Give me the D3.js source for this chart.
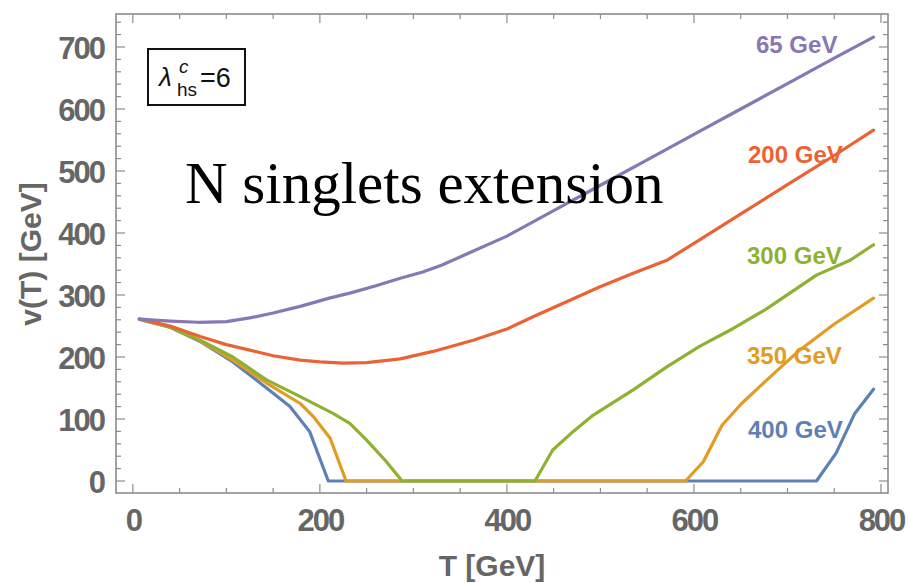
<!DOCTYPE html>
<html>
<head>
<meta charset="utf-8">
<script src="https://cdn.jsdelivr.net/npm/d3@7"></script>
<style>
  body { margin: 0; background: #fff; }
  svg { display: block; }
</style>
</head>
<body>
<svg id="chart" width="908" height="583"></svg>
<script>
// Tick values
const xTickValues = [0, 200, 400, 600, 800];
const yTickValues = [0, 100, 200, 300, 400, 500, 600, 700];

// Singlet masses (curve labels)
const massLabels = ["65 GeV", "200 GeV", "300 GeV", "350 GeV", "400 GeV"];

// v(T) for each singlet mass: temperature [GeV] and vev [GeV]
const t65  = [7, 40, 70, 100, 125, 150, 180, 210, 232, 260, 286, 310, 330, 360, 400, 450, 500, 550, 600, 650, 700, 750, 792];
const v65  = [261, 258, 256, 257, 263, 271, 282, 295, 303, 315, 327, 337, 348, 368, 395, 436, 477, 518, 559, 600, 641, 682, 716];

const t200 = [7, 40, 72, 100, 125, 150, 179, 200, 225, 250, 286, 321, 364, 400, 428, 465, 499, 535, 571, 606, 640, 700, 750, 792];
const v200 = [261, 250, 233, 220, 211, 202, 195, 192, 190, 191, 197, 209, 227, 245, 265, 290, 313, 335, 356, 389, 421, 478, 525, 566];

const t300 = [7, 40, 72, 107, 143, 179, 214, 232, 250, 270, 288, 430, 449, 471, 492, 535, 571, 606, 642, 678, 731, 767, 792];
const v300 = [261, 248, 227, 200, 163, 136, 109, 93, 66, 33, 0, 0, 50, 80, 106, 147, 184, 217, 246, 278, 332, 356, 381];

const t350 = [7, 40, 72, 107, 143, 179, 193, 211, 228, 591, 610, 630, 651, 678, 713, 749, 792];
const v350 = [261, 248, 226, 195, 158, 125, 104, 69, 0, 0, 31, 90, 125, 163, 211, 252, 295];

const t400 = [7, 40, 72, 107, 143, 168, 189, 209, 731, 752, 772, 792];
const v400 = [261, 248, 225, 192, 150, 120, 80, 0, 0, 45, 109, 148];

// Styling
const colors = ["#8877B5", "#EB6235", "#8FB131", "#E19C24", "#5E81B5"];
const labelPos = [[756, 53], [748, 163], [747, 264], [747, 364], [748, 438]];

const series = [
  { t: t65,  v: v65 },
  { t: t200, v: v200 },
  { t: t300, v: v300 },
  { t: t350, v: v350 },
  { t: t400, v: v400 }
];

const svg = d3.select("#chart");
const frame = { left: 116, right: 888, top: 14, bottom: 493 };

const x = d3.scaleLinear().domain([-18, 807.5]).range([frame.left, frame.right]);
const y = d3.scaleLinear().domain([-19.35, 753.2]).range([frame.bottom, frame.top]);

const axisColor = "#8c8c8c";
const labelColor = "#666";
const sansFont = "'Liberation Sans', Arial, Helvetica, sans-serif";

// Tick marks (pointing inward) on all four sides
const xMinor = d3.range(0, 801, 50);
const yMinor = d3.range(0, 741, 20);
const ticks = svg.append("g").attr("stroke", axisColor).attr("stroke-width", 1.2);
xMinor.forEach(t => {
  const len = t % 200 === 0 ? 9 : 5;
  ticks.append("line").attr("x1", x(t)).attr("x2", x(t)).attr("y1", frame.bottom).attr("y2", frame.bottom - len);
  ticks.append("line").attr("x1", x(t)).attr("x2", x(t)).attr("y1", frame.top).attr("y2", frame.top + len);
});
yMinor.forEach(v => {
  const len = v % 100 === 0 ? 9 : 5;
  ticks.append("line").attr("y1", y(v)).attr("y2", y(v)).attr("x1", frame.left).attr("x2", frame.left + len);
  ticks.append("line").attr("y1", y(v)).attr("y2", y(v)).attr("x1", frame.right).attr("x2", frame.right - len);
});

// Frame
svg.append("rect")
  .attr("x", frame.left).attr("y", frame.top)
  .attr("width", frame.right - frame.left).attr("height", frame.bottom - frame.top)
  .attr("fill", "none").attr("stroke", axisColor).attr("stroke-width", 1.6);

// Tick labels via d3 axes (tick lines drawn separately above)
const xAxis = svg.append("g")
  .attr("transform", `translate(0,${frame.bottom})`)
  .call(d3.axisBottom(x).tickValues(xTickValues).tickSize(0).tickPadding(38));
const yAxis = svg.append("g")
  .attr("transform", `translate(${frame.left},0)`)
  .call(d3.axisLeft(y).tickValues(yTickValues).tickSize(0).tickPadding(12));
[xAxis, yAxis].forEach(a => {
  a.select(".domain").remove();
  a.selectAll("text")
    .attr("fill", labelColor)
    .style("font-family", sansFont)
    .style("font-weight", "bold")
    .style("font-size", "31px")
    .style("letter-spacing", "-2px");
});
xAxis.selectAll("text").attr("dy", 0);
yAxis.selectAll("text").attr("dy", "0.36em");

// Axis titles
svg.append("text")
  .attr("x", (frame.left + frame.right) / 2 - 10).attr("y", 576)
  .attr("text-anchor", "middle")
  .attr("fill", labelColor)
  .style("font-family", sansFont).style("font-weight", "bold").style("font-size", "30px")
  .text("T [GeV]");
svg.append("text")
  .attr("transform", "translate(41,254) rotate(-90)")
  .attr("text-anchor", "middle")
  .attr("fill", labelColor)
  .style("font-family", sansFont).style("font-weight", "bold").style("font-size", "30px")
  .text("v(T) [GeV]");

// Curve labels (beneath the lines)
massLabels.forEach((lab, i) => {
  svg.append("text")
    .attr("x", labelPos[i][0]).attr("y", labelPos[i][1])
    .attr("fill", colors[i])
    .style("font-family", sansFont).style("font-weight", "bold").style("font-size", "24px")
    .text(lab);
});

// Curves: heaviest mass drawn first so the lighter-mass curves sit on top
const line = d3.line().x(d => x(d[0])).y(d => y(d[1])).curve(d3.curveLinear);
series.map((s, i) => ({ s, i })).reverse().forEach(({ s, i }) => {
  const pts = s.t.map((t, k) => [t, s.v[k]]);
  svg.append("path")
    .datum(pts)
    .attr("d", line)
    .attr("fill", "none")
    .attr("stroke", colors[i])
    .attr("stroke-width", 3.2)
    .attr("stroke-linejoin", "round")
    .attr("stroke-linecap", "round");
});

// Coupling box
const box = svg.append("g");
box.append("rect")
  .attr("x", 148).attr("y", 49).attr("width", 97).attr("height", 56)
  .attr("fill", "#fff").attr("stroke", "#111").attr("stroke-width", 2);
box.append("text")
  .attr("x", 159).attr("y", 86)
  .attr("fill", "#111")
  .style("font-family", sansFont).style("font-size", "26px").style("font-style", "italic")
  .text("λ");
box.append("text").attr("x", 179).attr("y", 73).attr("fill", "#111")
  .style("font-family", sansFont).style("font-size", "19px").style("font-style", "italic").text("c");
box.append("text").attr("x", 177).attr("y", 96).attr("fill", "#111")
  .style("font-family", sansFont).style("font-size", "19px").text("hs");
box.append("text").attr("x", 200).attr("y", 87).attr("fill", "#111")
  .style("font-family", sansFont).style("font-size", "27px").text("=6");

// Model annotation
svg.append("text")
  .attr("x", 185).attr("y", 203)
  .attr("fill", "#000")
  .style("font-family", "'Liberation Serif', 'Times New Roman', serif")
  .style("font-size", "59px")
  .text("N singlets extension");
</script>
</body>
</html>
